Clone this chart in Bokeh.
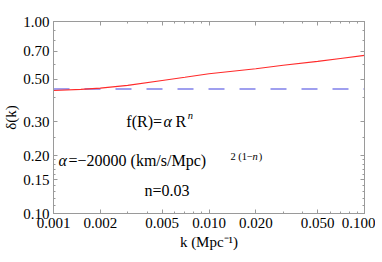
from bokeh.plotting import figure
from bokeh.models import LogAxis, FixedTicker, Label, Range1d, NumeralTickFormatter, CustomJSTickFormatter
from bokeh.embed import file_html
from bokeh.resources import INLINE

# data
k = [0.001, 0.0015, 0.002, 0.003, 0.005, 0.007, 0.01, 0.02, 0.03, 0.05, 0.07, 0.1]
delta_fR = [0.437, 0.443, 0.450, 0.465, 0.493, 0.512, 0.534, 0.567, 0.592, 0.620, 0.642, 0.666]
k_ref = [0.001, 0.1]
delta_ref = [0.445, 0.445]

x_major = [0.001, 0.002, 0.005, 0.01, 0.02, 0.05, 0.1]
x_minor = [0.003, 0.004, 0.006, 0.007, 0.008, 0.009, 0.03, 0.04, 0.06, 0.07, 0.08, 0.09]
y_major = [0.1, 0.15, 0.2, 0.3, 0.5, 0.7, 1.0]
y_minor = [0.11, 0.12, 0.13, 0.14, 0.16, 0.17, 0.18, 0.19, 0.25, 0.4, 0.6, 0.8, 0.9]

FONT = "Liberation Serif"
FS = "15px"
AFS = "16px"
SFS = "10.5px"
GRAY = "#9a9a9a"

p = figure(frame_width=311, frame_height=192, x_axis_type="log", y_axis_type="log",
           x_range=Range1d(0.001, 0.1), y_range=Range1d(0.1, 1.0),
           output_backend="svg", toolbar_location=None,
           min_border_left=44, min_border_right=11, min_border_top=21, min_border_bottom=30)
p.grid.visible = False
p.outline_line_color = GRAY
p.background_fill_color = "white"
p.border_fill_color = "white"

xt = FixedTicker(ticks=x_major, minor_ticks=x_minor)
yt = FixedTicker(ticks=y_major, minor_ticks=y_minor)

def style(ax, show_labels):
    ax.axis_line_color = GRAY
    ax.major_tick_line_color = GRAY
    ax.minor_tick_line_color = GRAY
    ax.major_tick_in = 4
    ax.major_tick_out = 0
    ax.minor_tick_in = 2
    ax.minor_tick_out = 0
    ax.major_label_text_font = FONT
    ax.major_label_text_font_size = FS
    ax.major_label_text_color = "black"
    ax.axis_label_text_font = FONT
    ax.axis_label_text_font_size = FS
    ax.axis_label_text_font_style = "normal"
    ax.axis_label_text_color = "black"
    if not show_labels:
        ax.formatter = CustomJSTickFormatter(code="return '';")

xa = p.xaxis[0]
xa.ticker = xt
xa.formatter = NumeralTickFormatter(format="0.000")
xa.axis_label = "k (Mpc⁻¹)"
style(xa, True)
xa.major_label_standoff = 4
xa.axis_label_standoff = 3

ya = p.yaxis[0]
ya.ticker = yt
ya.formatter = NumeralTickFormatter(format="0.00")
ya.axis_label = "δ(k)"
style(ya, True)
ya.major_label_standoff = 4
ya.axis_label_standoff = 1

top = LogAxis(ticker=FixedTicker(ticks=x_major, minor_ticks=x_minor))
style(top, False)
top.major_label_standoff = 0
p.add_layout(top, "above")
right = LogAxis(ticker=FixedTicker(ticks=y_major, minor_ticks=y_minor))
style(right, False)
right.major_label_standoff = 0
p.add_layout(right, "right")

p.line(k_ref, delta_ref, line_color="#4040e0", line_width=1.2, line_dash="16 15")
p.line(k, delta_fR, line_color="#ff2a2a", line_width=1.1)

def lab(x, y, t, size=AFS, style="normal"):
    p.add_layout(Label(x=x, y=y, text=t, text_font=FONT, text_font_size=size,
                       text_font_style=style, text_align="left", text_baseline="middle",
                       text_color="black"))

lab(0.00294, 0.301, "f(R)=")
lab(0.0051, 0.301, "α", style="italic")
lab(0.0061, 0.301, "R")
lab(0.0073, 0.324, "n", size=SFS, style="italic")
lab(0.001077, 0.188, "α", style="italic")
lab(0.001249, 0.188, "=−20000 (km/s/Mpc)")
lab(0.01374, 0.199, "2 (1−", size=SFS)
lab(0.01905, 0.199, "n", size=SFS, style="italic")
lab(0.0209, 0.199, ")", size=SFS)
lab(0.003846, 0.131, "n=0.03")

open("out.html", "w").write(file_html(p, INLINE))
